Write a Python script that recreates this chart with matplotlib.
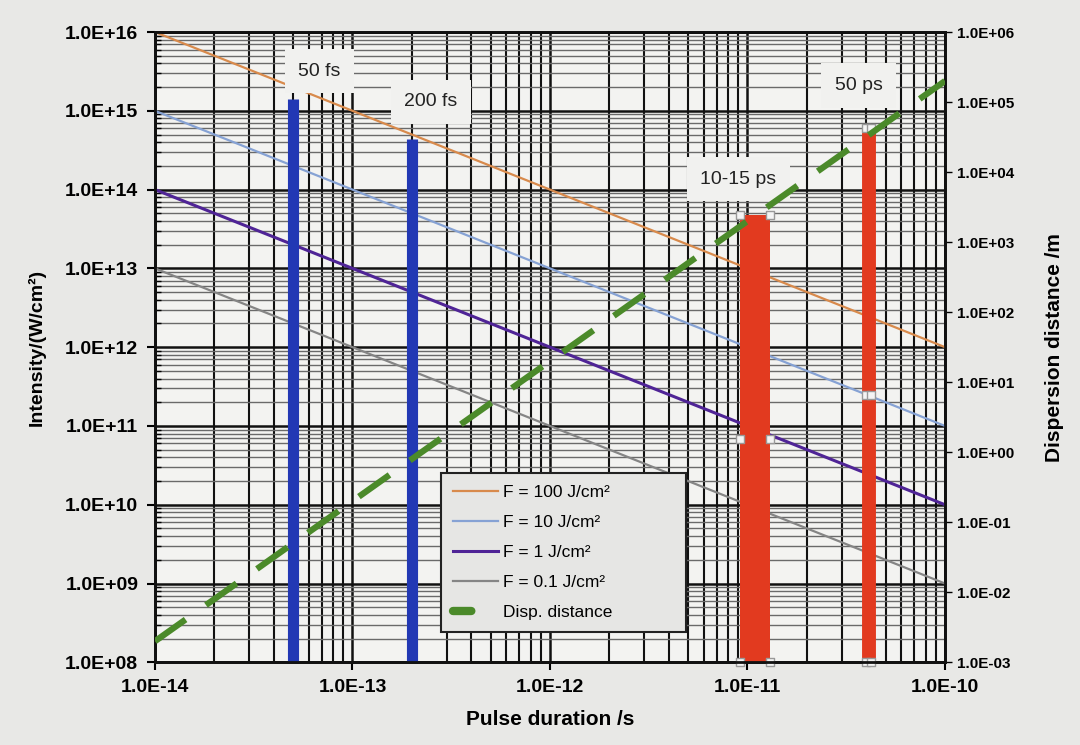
import numpy as np
import matplotlib
matplotlib.use("Agg")
import matplotlib.pyplot as plt
from matplotlib.ticker import FixedLocator, FuncFormatter, NullFormatter
from matplotlib.lines import Line2D

plt.rcParams['font.family'] = ['Liberation Sans', 'DejaVu Sans']

# pulse duration (s) and intensity I = F / tau for each fluence
tau = [1e-14, 1e-13, 1e-12, 1e-11, 1e-10]
fluences = [100, 10, 1, 0.1]
fluence_labels = ["F = 100 J/cm²", "F = 10 J/cm²", "F = 1 J/cm²", "F = 0.1 J/cm²"]
fluence_colors = ["#d88a4c", "#86a2d4", "#4f2496", "#858585"]
intensity = {
    100: [1e16, 1e15, 1e14, 1e13, 1e12],
    10: [1e15, 1e14, 1e13, 1e12, 1e11],
    1: [1e14, 1e13, 1e12, 1e11, 1e10],
    0.1: [1e13, 1e12, 1e11, 1e10, 1e9],
}

# dispersion distance (m), right axis
disp_tau = [1e-14, 1e-13, 1e-12, 1e-11, 1e-10]
disp_dist = [2e-3, 2e-1, 2e1, 2e3, 2e5]

# marked pulse durations
fs_pos = [5e-14, 2e-13]
fs_top = [1.4e15, 4.4e14]
ps_span = [9.2e-12, 1.3e-11]
ps_span_top = 4.8e13
ps_pos = 4.1e-11
ps_top = 6.0e14
label_pos = [(6.8e-14, 3.2e15), (2.5e-13, 1.3e15), (9.0e-12, 1.35e14), (3.65e-11, 2.1e15)]
label_text = ["50 fs", "200 fs", "10-15 ps", "50 ps"]

x_ticks = [1e-14, 1e-13, 1e-12, 1e-11, 1e-10]
y_ticks = [10.0 ** k for k in range(8, 17)]
y2_ticks = [10.0 ** k for k in range(-3, 7)]

fig = plt.figure(figsize=(10.8, 7.45), dpi=100, facecolor="#e8e8e6")
ax = fig.add_axes([0.1435, 0.111, 0.7315, 0.846])
ax.set_facecolor("#f3f3f1")
ax.set_xscale("log")
ax.set_yscale("log")
ax.set_xlim(1e-14, 1e-10)
ax.set_ylim(1e8, 1e16)

# grid
ax.xaxis.set_major_locator(FixedLocator(x_ticks))
ax.xaxis.set_minor_locator(FixedLocator([m * t for t in x_ticks[:-1] for m in range(2, 10)]))
ax.yaxis.set_major_locator(FixedLocator(y_ticks))
ax.yaxis.set_minor_locator(FixedLocator([m * t for t in y_ticks[:-1] for m in range(2, 10)]))
ax.xaxis.set_minor_formatter(NullFormatter())
ax.yaxis.set_minor_formatter(NullFormatter())
ax.grid(True, which="major", axis="both", color="#111111", lw=1.8, zorder=0)
ax.grid(True, which="minor", axis="x", color="#111111", lw=1.5, zorder=0)
ax.grid(True, which="minor", axis="y", color="#6a6a6a", lw=1.0, zorder=0)
ax.set_axisbelow(True)

fmt = FuncFormatter(lambda v, p: "{:.1E}".format(v))
ax.xaxis.set_major_formatter(fmt)
ax.yaxis.set_major_formatter(fmt)
ax.tick_params(axis="both", which="major", labelsize=14, length=6, width=1.5, direction="out", pad=6)
ax.tick_params(axis="y", which="minor", length=4, width=1, direction="in")
ax.tick_params(axis="x", which="minor", length=0)
for lab in ax.get_xticklabels() + ax.get_yticklabels():
    lab.set_fontweight("bold")
for s in ax.spines.values():
    s.set_linewidth(2)
    s.set_color("#111111")

# intensity lines
for F, c in zip(fluences, fluence_colors):
    lw = 2.2 if F == 1 else 1.6
    ax.plot(tau, intensity[F], color=c, lw=lw, zorder=3)

# femtosecond bars
for x, top in zip(fs_pos, fs_top):
    ax.vlines(x, 1e8, top, color="#2238b4", lw=8, zorder=4)

# picosecond bars
ax.fill_between(ps_span, [1e8, 1e8], [ps_span_top, ps_span_top], color="#e23a1f", lw=0, zorder=4)
ax.vlines(ps_pos, 1e8, ps_top, color="#e23a1f", lw=10, zorder=4)

# selection handles on red bars
hx, hy = [], []
for x0, x1, top in [(ps_span[0], ps_span[1], ps_span_top), (ps_pos * 0.975, ps_pos * 1.025, ps_top)]:
    mid = np.sqrt(1e8 * top)
    for y in (top, mid, 1e8):
        hx += [x0, x1]
        hy += [y, y]
ax.scatter(hx, hy, marker="s", s=40, facecolor="#f4f4f4", edgecolor="#999999", lw=1, zorder=6, clip_on=False)

for (x, y), t in zip(label_pos, label_text):
    ax.text(x, y, t, ha="center", va="center", fontsize=14, color="#222222", zorder=7,
            bbox=dict(boxstyle="square,pad=0.7", facecolor="#f1f1ef", edgecolor="none"))

ax.set_xlabel("Pulse duration /s", fontsize=15, fontweight="bold", labelpad=10)
ax.set_ylabel("Intensity/(W/cm²)", fontsize=14, fontweight="bold", labelpad=14)

# right axis
ax2 = ax.twinx()
ax2.set_yscale("log")
ax2.set_ylim(1e-3, 1e6)
ax2.yaxis.set_major_locator(FixedLocator(y2_ticks))
ax2.yaxis.set_minor_locator(FixedLocator([]))
ax2.yaxis.set_major_formatter(fmt)
ax2.tick_params(axis="y", which="major", labelsize=11, length=5, width=1, pad=4)
for lab in ax2.get_yticklabels():
    lab.set_fontweight("bold")
ax2.plot(disp_tau, disp_dist, color="#4b8a2a", lw=4.5, ls=(0, (6, 4)), zorder=5)
ax2.set_ylabel("Dispersion distance /m", fontsize=15, fontweight="bold", labelpad=22)
for s in ax2.spines.values():
    s.set_linewidth(2)
    s.set_color("#111111")

handles = [Line2D([], [], color=c, lw=2.2 if F == 1 else 1.6) for F, c in zip(fluences, fluence_colors)]
handles.append(Line2D([], [], color="#4b8a2a", lw=6, ls=(0, (2.2, 10)), dash_capstyle="round"))
labels = fluence_labels + ["Disp. distance"]
leg = ax2.legend(handles, labels, loc="lower left", bbox_to_anchor=(0.362, 0.048, 0.31, 0.312),
                 mode="expand", fontsize=12.5, frameon=True, fancybox=False, handlelength=2.6,
                 handletextpad=0.3, labelspacing=0.85, borderpad=0.7, borderaxespad=0)
leg.get_frame().set_facecolor("#e6e6e4")
leg.get_frame().set_edgecolor("#222222")
leg.get_frame().set_linewidth(1.5)
leg.get_frame().set_alpha(1)
leg.set_zorder(10)

fig.savefig("out.png", dpi=100, facecolor=fig.get_facecolor())
